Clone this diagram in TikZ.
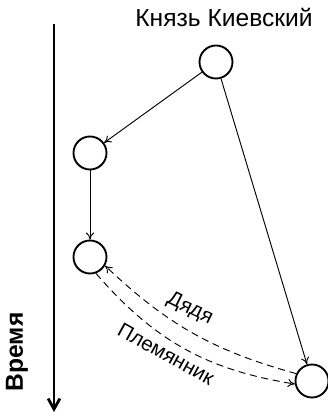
\documentclass[tikz,border=0pt]{standalone}
\usepackage{fontspec}
\setmainfont{Liberation Sans}
\usepackage{tikz}
\usetikzlibrary{arrows.meta,positioning,calc}

\begin{document}
\begin{tikzpicture}[
    x=0.03cm, y=0.03cm,
    font=\fontsize{21}{25}\selectfont,
    person/.style={circle, draw=black, line width=1.6pt, minimum size=0.99cm, inner sep=0pt},
    arrow/.style={-{To[length=6pt,width=7pt]}, line width=0.8pt},
    dasharrow/.style={-{To[length=6pt,width=7pt]}, line width=0.8pt, dash pattern=on 6pt off 4pt},
    timearrow/.style={-{Straight Barb[length=9pt,width=10pt]}, line width=2.4pt},
    lbl/.style={font=\fontsize{17.5}{21}\selectfont, inner sep=1pt},
]
\useasboundingbox (0,0) rectangle (327,418);

% Time axis
\coordinate (ttop) at (54,394);
\coordinate (tbot) at (54,6);
\draw[timearrow] (ttop) -- (tbot);
\node[rotate=90, font=\fontsize{21}{25}\selectfont\bfseries] (time) at (17,66) {Время};

% Persons
\node (title) at (224,401) {Князь Киевский};
\node[person] (prince) at (216,356) {};
\node[person] (son) at (90,265) {};
\node[person] (grandson) at (90,161) {};
\node[person] (other) at (312,37) {};

% Descent
\draw[arrow] (prince) -- (son);
\draw[arrow] (son) -- (grandson);
\draw[arrow] (prince) -- (other);

% Relations
\draw[dasharrow] (other.155) to[bend left=14] (grandson.-30);
\draw[dasharrow] (grandson.-70) to[bend right=20] (other.190);
\node[lbl, rotate=-26] (uncle) at (190,109) {Дядя};
\node[lbl, rotate=-29] (nephew) at (166,64) {Племянник};

\end{tikzpicture}
\end{document}
